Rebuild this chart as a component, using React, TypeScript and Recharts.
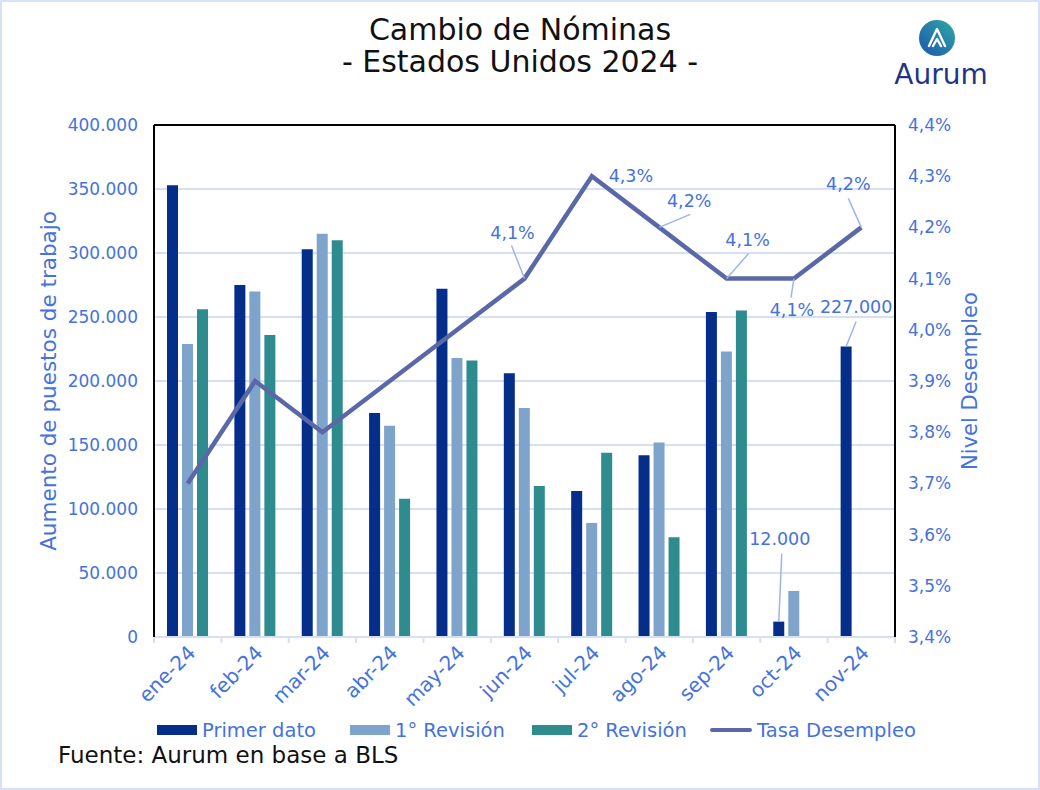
import React from 'react';
import {
  ComposedChart, Bar, Line, XAxis, YAxis, CartesianGrid, ReferenceLine, LabelList,
} from 'recharts';

const categories = ['ene-24', 'feb-24', 'mar-24', 'abr-24', 'may-24', 'jun-24', 'jul-24', 'ago-24', 'sep-24', 'oct-24', 'nov-24'];
const primerDato = [353000, 275000, 303000, 175000, 272000, 206000, 114000, 142000, 254000, 12000, 227000];
const revision1 = [229000, 270000, 315000, 165000, 218000, 179000, 89000, 152000, 223000, 36000, null];
const revision2 = [256000, 236000, 310000, 108000, 216000, 118000, 144000, 78000, 255000, null, null];
const tasaDesempleo = [3.7, 3.9, 3.8, 3.9, 4.0, 4.1, 4.3, 4.2, 4.1, 4.1, 4.2];
const leftTicks = [0, 50000, 100000, 150000, 200000, 250000, 300000, 350000, 400000];
const rightTicks = [3.4, 3.5, 3.6, 3.7, 3.8, 3.9, 4.0, 4.1, 4.2, 4.3, 4.4];

const data = categories.map((c, i) => ({
  cat: c,
  primer: primerDato[i],
  rev1: revision1[i],
  rev2: revision2[i],
  tasa: tasaDesempleo[i],
}));

const FONT = '"DejaVu Sans", "Noto Sans", sans-serif';
const BLUE_TXT = '#4472DE';
const GRID = '#D5E0F5';
const C_DARK = '#042E8A';
const C_LIGHT = '#7FA4CB';
const C_TEAL = '#2E8C8F';
const C_LINE = '#5B68A7';
const LEADER = '#9DB5EC';

const PLOT_LEFT = 154;
const PLOT_RIGHT = 895;
const BAND = (PLOT_RIGHT - PLOT_LEFT) / categories.length;

const fmtThousands = (v: number) => v.toLocaleString('de-DE');
const fmtPct = (v: number) => v.toFixed(1).replace('.', ',') + '%';

// label placement (style only)
const lineLabelPos: Record<number, { dx: number; dy: number; lx?: number; ly?: number }> = {
  5: { dx: -12, dy: -46, lx: -13, ly: -33 },
  6: { dx: 39, dy: 0 },
  7: { dx: 30, dy: -26, lx: 31, ly: -13 },
  8: { dx: 21, dy: -39, lx: 22, ly: -25 },
  9: { dx: -2, dy: 31, lx: -3, ly: 19 },
  10: { dx: -13, dy: -43, lx: -13, ly: -29 },
};
const barLabelPos: Record<number, { dx: number; dy: number; lx: number; ly: number }> = {
  9: { dx: 1, dy: -83, lx: 3, ly: -68 },
  10: { dx: 10, dy: -39, lx: 10, ly: -25 },
};

const LineLabel = (props: any) => {
  const { x, y, value, index } = props;
  const p = lineLabelPos[index];
  if (!p) return null;
  return (
    <g>
      {p.lx !== undefined && (
        <line x1={x} y1={y} x2={x + p.lx} y2={y + (p.ly as number)} stroke={LEADER} strokeWidth={1.5} />
      )}
      <text x={x + p.dx} y={y + p.dy} textAnchor="middle" dominantBaseline="central" fill={BLUE_TXT} fontSize={17.5} fontFamily={FONT}>
        {fmtPct(value)}
      </text>
    </g>
  );
};

const BarLabel = (props: any) => {
  const { x, y, width, value, index } = props;
  const p = barLabelPos[index];
  if (!p) return null;
  const cx = x + width / 2;
  return (
    <g>
      <line x1={cx} y1={y} x2={cx + p.lx} y2={y + p.ly} stroke={LEADER} strokeWidth={1.5} />
      <text x={cx + p.dx} y={y + p.dy} textAnchor="middle" dominantBaseline="central" fill={BLUE_TXT} fontSize={17.5} fontFamily={FONT}>
        {fmtThousands(value)}
      </text>
    </g>
  );
};

const XTick = (props: any) => {
  const { x, y, payload, index } = props;
  const last = index === categories.length - 1;
  return (
    <g>
      <line x1={x - BAND / 2} y1={y} x2={x - BAND / 2} y2={y + 6} stroke={GRID} strokeWidth={2} />
      {last && <line x1={x + BAND / 2} y1={y} x2={x + BAND / 2} y2={y + 6} stroke={GRID} strokeWidth={2} />}
      <text
        x={x + 4}
        y={y + 12}
        textAnchor="end"
        dominantBaseline="central"
        transform={`rotate(-45, ${x + 4}, ${y + 12})`}
        fill={BLUE_TXT}
        fontSize={20}
        fontFamily={FONT}
      >
        {payload.value}
      </text>
    </g>
  );
};

const legendItems = [
  { label: 'Primer dato', color: C_DARK, left: 157, type: 'bar' },
  { label: '1° Revisión', color: C_LIGHT, left: 350, type: 'bar' },
  { label: '2° Revisión', color: C_TEAL, left: 532, type: 'bar' },
  { label: 'Tasa Desempleo', color: C_LINE, left: 710, type: 'line' },
];

const Logo = () => (
  <svg width={120} height={80} style={{ position: 'absolute', left: 880, top: 12 }}>
    <defs>
      <linearGradient id="lg" x1="0" y1="1" x2="1" y2="0">
        <stop offset="0%" stopColor="#1B55AE" />
        <stop offset="100%" stopColor="#2FA9A4" />
      </linearGradient>
    </defs>
    <circle cx={57} cy={26} r={18} fill="url(#lg)" />
    <path d="M 49 34 L 57 17 L 65 34 M 53 34 L 57 27 L 61 34" stroke="#fff" strokeWidth={2.4} fill="none" strokeLinejoin="round" strokeLinecap="round" />
    <text x={61} y={72} textAnchor="middle" fill="#1F3584" fontSize={28} fontFamily={FONT}>
      Aurum
    </text>
  </svg>
);

export default function App() {
  return (
    <div style={{ position: 'absolute', left: 0, top: 0, width: 1040, height: 790, background: '#fff', fontFamily: FONT }}>
      <div style={{ position: 'absolute', left: 0, top: 14, width: 1040, textAlign: 'center', fontSize: 30, lineHeight: '32px', color: '#111' }}>
        <div>Cambio de Nóminas</div>
        <div>- Estados Unidos 2024 -</div>
      </div>
      <Logo />
      <ComposedChart
        width={1040}
        height={790}
        data={data}
        margin={{ top: 125, right: 45, bottom: 93, left: 34 }}
        barSize={11}
        barGap={4}
        style={{ position: 'absolute', left: 0, top: 0 }}
      >
        <CartesianGrid yAxisId="left" vertical={false} stroke={GRID} strokeWidth={2} />
        <XAxis
          dataKey="cat"
          xAxisId={0}
          height={60}
          interval={0}
          axisLine={{ stroke: GRID, strokeWidth: 2 }}
          tickLine={false}
          tickSize={0}
          tickMargin={0}
          tick={<XTick />}
        />
        <YAxis
          yAxisId="left"
          orientation="left"
          width={120}
          domain={[0, 400000]}
          ticks={leftTicks}
          tickFormatter={fmtThousands}
          axisLine={{ stroke: '#000', strokeWidth: 2 }}
          tickLine={false}
          tickMargin={10}
          tick={{ fill: BLUE_TXT, fontSize: 17, fontFamily: FONT }}
          label={{ value: 'Aumento de puestos de trabajo', angle: -90, position: 'insideLeft', offset: 14, style: { textAnchor: 'middle', fill: BLUE_TXT, fontSize: 21.5, fontFamily: FONT } }}
        />
        <YAxis
          yAxisId="right"
          orientation="right"
          width={100}
          domain={[3.4, 4.4]}
          ticks={rightTicks}
          tickFormatter={fmtPct}
          axisLine={{ stroke: '#000', strokeWidth: 2 }}
          tickLine={false}
          tickMargin={7}
          tick={{ fill: BLUE_TXT, fontSize: 17, fontFamily: FONT }}
          label={{ value: 'Nivel Desempleo', angle: -90, position: 'insideRight', offset: 25, style: { textAnchor: 'middle', fill: BLUE_TXT, fontSize: 21, fontFamily: FONT } }}
        />
        <ReferenceLine yAxisId="left" y={400000} stroke="#000" strokeWidth={2} />
        <Bar yAxisId="left" dataKey="primer" fill={C_DARK} isAnimationActive={false}>
          <LabelList dataKey="primer" content={<BarLabel />} />
        </Bar>
        <Bar yAxisId="left" dataKey="rev1" fill={C_LIGHT} isAnimationActive={false} />
        <Bar yAxisId="left" dataKey="rev2" fill={C_TEAL} isAnimationActive={false} />
        <Line yAxisId="right" dataKey="tasa" stroke={C_LINE} strokeWidth={4.5} dot={false} activeDot={false} isAnimationActive={false}>
          <LabelList dataKey="tasa" content={<LineLabel />} />
        </Line>
      </ComposedChart>
      {legendItems.map((it) => (
        <div key={it.label} style={{ position: 'absolute', left: it.left, top: 719, height: 22, display: 'flex', alignItems: 'center' }}>
          {it.type === 'bar' ? (
            <div style={{ width: 40, height: 10, background: it.color }} />
          ) : (
            <div style={{ width: 42, height: 4, borderRadius: 2, background: it.color }} />
          )}
          <span style={{ marginLeft: 5, color: BLUE_TXT, fontSize: 19.5 }}>{it.label}</span>
        </div>
      ))}
      <div style={{ position: 'absolute', left: 58, top: 742, fontSize: 23, color: '#111' }}>Fuente: Aurum en base a BLS</div>
      <div style={{ position: 'absolute', left: 0, top: 0, width: 1040, height: 790, boxSizing: 'border-box', border: '2px solid #D6E2F6', pointerEvents: 'none' }} />
    </div>
  );
}
